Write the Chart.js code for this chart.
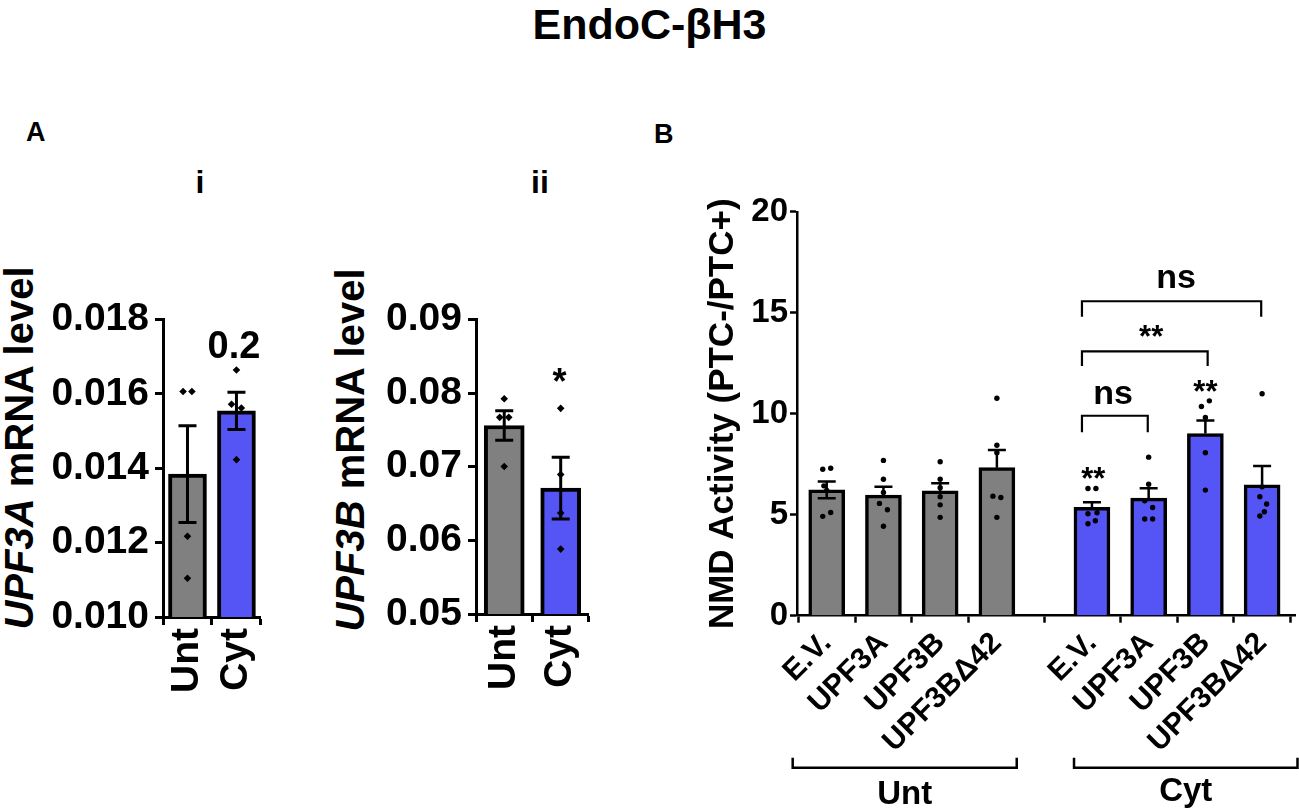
<!DOCTYPE html>
<html>
<head>
<meta charset="utf-8">
<script src="https://cdn.jsdelivr.net/npm/chart.js@4.4.1/dist/chart.umd.min.js"></script>
<style>
  body { margin: 0; width: 1299px; height: 812px; background: #fff; position: relative; overflow: hidden;
         font-family: "Liberation Sans", Arial, Helvetica, sans-serif; font-weight: bold; color: #000; }
  .t { position: absolute; white-space: nowrap; line-height: 1; }
  .ytitle { position: absolute; white-space: nowrap; line-height: 1; font-size: 40px;
            transform: translate(-50%, -50%) rotate(-90deg); }
  canvas { position: absolute; }
</style>
</head>
<body>
<div class="t" style="left:0;width:1299px;text-align:center;top:3px;font-size:43px">EndoC-βH3</div>
<div class="t" style="left:26px;top:119px;font-size:27px">A</div>
<div class="t" style="left:654px;top:121px;font-size:27px">B</div>
<div class="t" style="left:180px;width:40px;text-align:center;top:166px;font-size:32px">i</div>
<div class="t" style="left:520px;width:40px;text-align:center;top:166px;font-size:32px">ii</div>
<div class="ytitle" style="left:18.7px;top:448px"><i>UPF3A</i> mRNA level</div>
<div class="ytitle" style="left:350px;top:450px"><i>UPF3B</i> mRNA level</div>

<canvas id="a1" width="250" height="410" style="left:40px;top:290px"></canvas>
<canvas id="a2" width="265" height="410" style="left:350px;top:290px"></canvas>
<canvas id="b" width="609" height="622" style="left:690px;top:190px"></canvas>

<script>
// ---- Panel A i : UPF3A mRNA level ----
const catA = ['Unt', 'Cyt'];
const posA = [0, 1];
const upf3aMean = [0.01384, 0.01554];
const upf3aSem = [0.0013, 0.0005];
const upf3aPts = [[0.01606, 0.01606, 0.01217, 0.01104], [0.01664, 0.01572, 0.01562, 0.01423]];
const upf3aJit = [[-0.09, 0.09, 0, 0], [0, -0.1, 0.1, 0]];

// ---- Panel A ii : UPF3B mRNA level ----
const upf3bMean = [0.0756, 0.0671];
const upf3bSem = [0.002, 0.0042];
const upf3bPts = [[0.07923, 0.0767, 0.0767, 0.07002], [0.07792, 0.06893, 0.0637, 0.05881]];
const upf3bJit = [[0, -0.08, 0.08, 0], [0, 0, 0, 0]];

// ---- Panel B : NMD activity ----
const catB = ['E.V.', 'UPF3A', 'UPF3B', 'UPF3B\u039442', 'E.V.', 'UPF3A', 'UPF3B', 'UPF3B\u039442'];
const posB = [0, 1, 2, 3, 4.676, 5.676, 6.676, 7.676];
const nmdMean = [6.23, 5.97, 6.18, 7.33, 5.36, 5.82, 9.02, 6.48];
const nmdSem = [0.41, 0.42, 0.38, 0.87, 0.26, 0.49, 0.65, 0.93];
const nmdLower = [true, false, false, false, false, false, false, false];
const nmdPts = [
  [7.25, 7.30, 6.43, 6.2, 4.92, 5.11],
  [7.69, 6.76, 6.1, 5.56, 5.25, 4.43],
  [7.62, 6.76, 6.34, 5.89, 5.49, 4.87],
  [10.77, 8.44, 8.07, 5.92, 5.85, 4.87],
  [6.30, 6.30, 5.10, 5.05, 4.70, 4.55],
  [7.85, 6.51, 5.69, 5.36, 4.79, 4.79],
  [10.64, 10.36, 9.82, 8.07, 6.22],
  [10.99, 6.38, 5.89, 5.53, 5.15, 4.94]
];
const nmdJit = [
  [-0.07, 0.07, -0.05, 0, -0.07, 0.07],
  [0, 0, 0, -0.07, 0.07, 0],
  [0, 0, 0, 0, 0, 0],
  [0, 0, 0, -0.07, 0.07, 0],
  [-0.07, 0.07, 0.09, -0.07, 0.06, -0.07],
  [0, 0, -0.07, 0.07, -0.07, 0.07],
  [0.07, -0.07, 0, 0, 0],
  [0, 0, -0.04, 0.08, 0.04, -0.04]
];
// significance brackets and labels (data units)
const sigBrackets = [
  {x1: 4.50, x2: 5.66, y: 9.90, leg: 9.08},
  {x1: 4.50, x2: 6.716, y: 13.09, leg: 12.36},
  {x1: 4.50, x2: 7.66, y: 15.57, leg: 14.8}
];
const sigTexts = [
  {x: 5.05, y: 10.94, text: 'ns', size: 34},
  {x: 5.72, y: 14.1, text: '**', size: 31},
  {x: 6.16, y: 16.66, text: 'ns', size: 34},
  {x: 4.70, y: 7.08, text: '**', size: 31},
  {x: 6.676, y: 11.35, text: '**', size: 31}
];
const groupsB = [
  {x1: -0.60, x2: 3.35, text: 'Unt'},
  {x1: 4.36, x2: 8.30, text: 'Cyt'}
];

const FONT = '"Liberation Sans", Arial, Helvetica, sans-serif';
const GREY = '#808080';
const BLUE = '#5555f6';
Chart.defaults.font.family = FONT;
Chart.defaults.font.weight = 'bold';
Chart.defaults.color = '#000';

function centeredText(ctx, text, x, y, size) {
  ctx.font = 'bold ' + size + 'px ' + FONT;
  ctx.textAlign = 'center';
  ctx.textBaseline = 'alphabetic';
  const m = ctx.measureText(text);
  ctx.fillText(text, x, y + (m.actualBoundingBoxAscent - m.actualBoundingBoxDescent) / 2);
}

const marks = {
  id: 'marks',
  afterDatasetDraw(chart, args, o) {
    if (args.meta.type !== 'bar') return;
    const {ctx, scales: {x, y}} = chart;
    ctx.save();
    ctx.strokeStyle = '#000';
    ctx.lineWidth = o.errW;
    o.pos.forEach((p, i) => {
      const px = x.getPixelForValue(p);
      const top = y.getPixelForValue(o.means[i] + o.sems[i]);
      const low = o.lower[i];
      const bot = y.getPixelForValue(low ? o.means[i] - o.sems[i] : o.means[i]);
      ctx.beginPath();
      ctx.moveTo(px, top); ctx.lineTo(px, bot);
      ctx.moveTo(px - o.cap, top); ctx.lineTo(px + o.cap, top);
      if (low) { ctx.moveTo(px - o.cap, bot); ctx.lineTo(px + o.cap, bot); }
      ctx.stroke();
    });
    ctx.restore();
  },
  afterDraw(chart, args, o) {
    const {ctx, chartArea, scales: {x, y}} = chart;
    ctx.save();
    ctx.fillStyle = '#000';
    ctx.strokeStyle = '#000';
    ctx.lineWidth = 2.2;
    (o.brackets || []).forEach(b => {
      const x1 = x.getPixelForValue(b.x1), x2 = x.getPixelForValue(b.x2);
      const yt = y.getPixelForValue(b.y), yl = y.getPixelForValue(b.leg);
      ctx.beginPath();
      ctx.moveTo(x1, yl); ctx.lineTo(x1, yt); ctx.lineTo(x2, yt); ctx.lineTo(x2, yl);
      ctx.stroke();
    });
    (o.texts || []).forEach(t => centeredText(ctx, t.text, x.getPixelForValue(t.x), y.getPixelForValue(t.y), t.size));
    ctx.lineWidth = 2.5;
    (o.groups || []).forEach(g => {
      const x1 = x.getPixelForValue(g.x1), x2 = x.getPixelForValue(g.x2);
      const ly = chartArea.bottom + 152;
      ctx.beginPath();
      ctx.moveTo(x1, ly - 10); ctx.lineTo(x1, ly); ctx.lineTo(x2, ly); ctx.lineTo(x2, ly - 10);
      ctx.stroke();
      centeredText(ctx, g.text, (x1 + x2) / 2, chartArea.bottom + 177, 33);
    });
    ctx.restore();
  }
};

function makePanel(id, p) {
  const pts = [];
  p.points.forEach((vals, i) => vals.forEach((v, j) => pts.push({x: p.pos[i] + p.jitter[i][j], y: v})));
  const grid = {display: true, drawOnChartArea: false, drawTicks: true, tickLength: p.tickLen,
                tickWidth: p.axisW, tickColor: '#000'};
  const border = {display: true, color: '#000', width: p.axisW};
  return new Chart(document.getElementById(id), {
    type: 'bar',
    data: {
      datasets: [
        {type: 'scatter', data: pts, pointStyle: p.pointStyle, pointRadius: p.pointR,
         pointBackgroundColor: '#000', pointBorderWidth: 0, order: 1},
        {type: 'bar', data: p.pos.map((xv, i) => ({x: xv, y: p.means[i]})), backgroundColor: p.colors,
         borderColor: '#000', borderWidth: p.barBorder, barThickness: p.barW, order: 2}
      ]
    },
    options: {
      responsive: false, animation: false, events: [],
      layout: {padding: p.pad},
      plugins: {
        legend: {display: false}, tooltip: {enabled: false},
        marks: {pos: p.pos, means: p.means, sems: p.sems, lower: p.lower, cap: 9, errW: p.errW,
                brackets: p.brackets, texts: p.texts, groups: p.groups}
      },
      scales: {
        x: {
          type: 'linear', min: p.xMin, max: p.xMax, offset: false,
          afterBuildTicks: s => { s.ticks = p.pos.map(v => ({value: v})); },
          afterFit: s => { s.height = p.xH; },
          ticks: {autoSkip: false, minRotation: p.rot, maxRotation: p.rot, padding: p.xPad,
                  font: {size: p.xFont, weight: 'bold'}, callback: (v, i) => p.labels[i]},
          grid, border
        },
        y: {
          min: p.yMin, max: p.yMax,
          afterFit: s => { s.width = p.yW; },
          ticks: {stepSize: p.step, padding: p.yPad, font: {size: p.yFont, weight: 'bold'},
                  callback: v => v.toFixed(p.dec)},
          title: p.yTitle ? {display: true, text: p.yTitle, font: {size: 35, weight: 'bold'},
                             padding: {top: 0, bottom: 0}} : {display: false},
          grid, border
        }
      }
    },
    plugins: [marks]
  });
}

makePanel('a1', {
  labels: catA, pos: posA, means: upf3aMean, sems: upf3aSem, lower: [true, true],
  points: upf3aPts, jitter: upf3aJit, colors: [GREY, BLUE],
  xMin: -0.5, xMax: 1.5, rot: 90, xPad: 3, xFont: 39, xH: 83,
  yMin: 0.010, yMax: 0.018, step: 0.002, dec: 3, yFont: 39, yPad: 6, yW: 123,
  pad: {left: 0, top: 19, right: 15, bottom: 0},
  tickLen: 8, axisW: 3, barW: 38, barBorder: 4, errW: 3, pointStyle: 'rectRot', pointR: 3.8,
  texts: [{x: 0.95, y: 0.01732, text: '0.2', size: 38}]
});

makePanel('a2', {
  labels: catA, pos: posA, means: upf3bMean, sems: upf3bSem, lower: [true, true],
  points: upf3bPts, jitter: upf3bJit, colors: [GREY, BLUE],
  xMin: -0.5, xMax: 1.5, rot: 90, xPad: 3, xFont: 39, xH: 86,
  yMin: 0.05, yMax: 0.09, step: 0.01, dec: 2, yFont: 39, yPad: 6, yW: 126,
  pad: {left: 0, top: 18, right: 18, bottom: 0},
  tickLen: 8, axisW: 3, barW: 40, barBorder: 4, errW: 3, pointStyle: 'rectRot', pointR: 3.8,
  texts: [{x: 0.98, y: 0.0824, text: '*', size: 36}]
});

makePanel('b', {
  labels: catB, pos: posB, means: nmdMean, sems: nmdSem, lower: nmdLower,
  points: nmdPts, jitter: nmdJit, colors: [GREY, GREY, GREY, GREY, BLUE, BLUE, BLUE, BLUE],
  xMin: -0.524, xMax: 8.256, rot: 45, xPad: 3, xFont: 30, xH: 196.3,
  yMin: 0, yMax: 20, step: 5, dec: 0, yFont: 33, yPad: 2, yW: 95,
  yTitle: 'NMD Activity (PTC-/PTC+)',
  pad: {left: 12, top: 19, right: 4, bottom: 0},
  tickLen: 7, axisW: 2.5, barW: 36, barBorder: 3.5, errW: 2.5, pointStyle: 'circle', pointR: 2.7,
  brackets: sigBrackets, texts: sigTexts, groups: groupsB
});
</script>
</body>
</html>
